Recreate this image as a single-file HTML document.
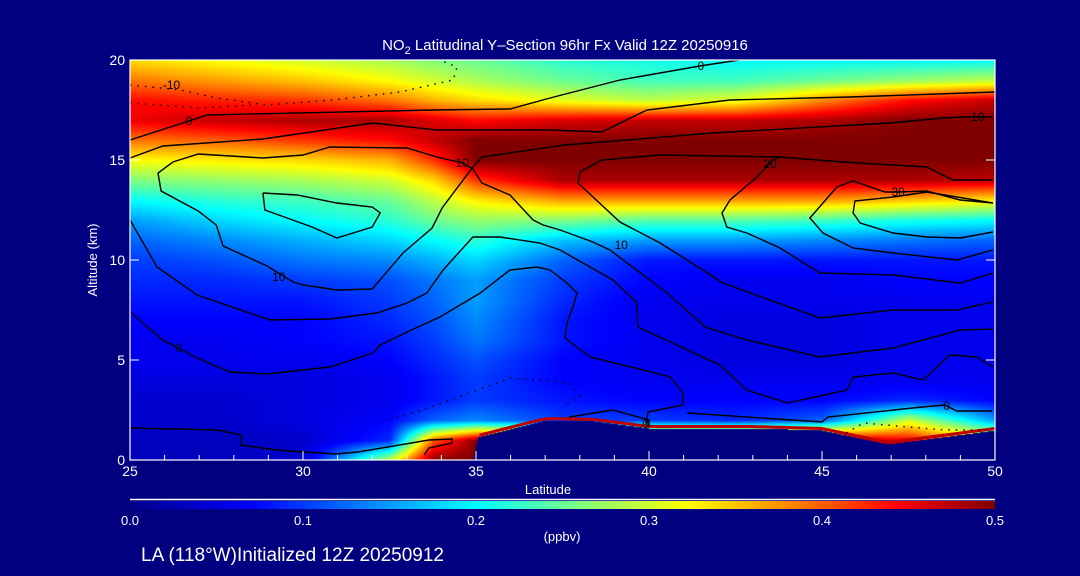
<!DOCTYPE html>
<html><head><meta charset="utf-8"><style>
html,body{margin:0;padding:0;background:#000080;}
#wrap{position:relative;width:1080px;height:576px;overflow:hidden;background:#000080;font-family:"Liberation Sans",sans-serif;color:#fff;}
canvas{position:absolute;}
svg{position:absolute;left:0;top:0;}
</style></head><body>
<div id="wrap">
<canvas id="field" width="865" height="400" style="left:130px;top:60px"></canvas>
<canvas id="cbar" width="865" height="8" style="left:130px;top:501px"></canvas>
<svg id="ov" width="1080" height="576"></svg>
</div>
<script>
const lats=[25,27.5,30,32.5,33.75,35,37.5,40,42.5,45,47.5,50];
const alts=[0,1,2,3,4,5,6,7,8,9,10,11,12,13,14,15,16,17,18,19,20];
const no2=[
[0.03,0.03,0.04,0.30,0.50,0.50,0.50,0.50,0.50,0.50,0.50,0.50],
[0.03,0.03,0.04,0.09,0.40,0.50,0.50,0.50,0.50,0.50,0.45,0.35],
[0.04,0.04,0.05,0.07,0.12,0.14,0.10,0.10,0.09,0.12,0.30,0.15],
[0.04,0.04,0.05,0.06,0.08,0.10,0.08,0.07,0.07,0.07,0.09,0.07],
[0.05,0.05,0.05,0.06,0.08,0.10,0.07,0.06,0.06,0.06,0.06,0.06],
[0.06,0.06,0.06,0.07,0.09,0.11,0.07,0.06,0.05,0.05,0.06,0.06],
[0.06,0.06,0.07,0.08,0.10,0.13,0.08,0.06,0.05,0.05,0.06,0.06],
[0.07,0.07,0.07,0.09,0.11,0.14,0.08,0.06,0.05,0.05,0.06,0.06],
[0.08,0.08,0.08,0.10,0.12,0.15,0.09,0.06,0.06,0.06,0.06,0.06],
[0.09,0.09,0.10,0.11,0.13,0.15,0.10,0.07,0.06,0.06,0.07,0.07],
[0.10,0.11,0.13,0.14,0.16,0.18,0.12,0.08,0.08,0.08,0.08,0.08],
[0.12,0.14,0.16,0.18,0.20,0.22,0.17,0.15,0.15,0.14,0.13,0.12],
[0.15,0.18,0.20,0.22,0.25,0.27,0.26,0.24,0.24,0.23,0.21,0.20],
[0.20,0.22,0.23,0.25,0.29,0.33,0.37,0.37,0.37,0.37,0.35,0.33],
[0.26,0.27,0.28,0.30,0.34,0.42,0.48,0.48,0.48,0.48,0.48,0.47],
[0.32,0.33,0.34,0.36,0.42,0.50,0.50,0.50,0.50,0.50,0.50,0.50],
[0.39,0.40,0.42,0.44,0.47,0.50,0.50,0.50,0.50,0.50,0.50,0.50],
[0.45,0.47,0.48,0.48,0.46,0.44,0.46,0.47,0.47,0.48,0.50,0.50],
[0.44,0.43,0.42,0.39,0.36,0.34,0.31,0.29,0.31,0.38,0.44,0.47],
[0.39,0.37,0.35,0.32,0.30,0.28,0.25,0.23,0.23,0.25,0.27,0.29],
[0.34,0.32,0.30,0.28,0.26,0.25,0.22,0.21,0.20,0.20,0.20,0.20]];
const terrainLat=[25,34.9,35.05,37,38.4,40,43,45,46.9,50];
const terrainAlt=[0,0,1.15,2,1.95,1.6,1.6,1.5,0.8,1.5];
const xTicks=[25,30,35,40,45,50];
const yTicks=[0,5,10,15,20];
const cbTicks=[0.0,0.1,0.2,0.3,0.4,0.5];
const solidContours=[
[[25,16],[26.53,16.85],[27.23,17.25],[33.76,17.5],[35.98,17.55],[37.14,18.1],[39.16,19],[41.47,19.7],[42.6,20]],
[[25,15.1],[25.95,15.7],[28.84,16.05],[32.02,16.85],[33.87,16.5],[37.14,16.5],[38.64,16.4],[39.94,17.5],[42.34,18],[45.81,18.15],[50,18.4]],
[[49.94,17.15],[49.08,17.15],[48.5,17.1],[46.97,16.85],[41.85,16.35],[37.57,15.75],[35.17,15.15],[34.91,14.65],[34.02,12.6],[33.73,11.6],[32.89,10.35],[32,8.55],[30.98,8.5],[30,8.75],[29.71,8.9],[28.96,9.7],[27.69,10.7],[27.49,11.75],[26.97,12.45],[25.9,13.45],[25.81,14.35],[26.24,14.9],[26.97,15.3],[28.84,15.1],[30,15.25],[30.78,15.65],[33.01,15.6],[33.87,15.15],[34.62,14.85],[34.91,14.55],[35.17,13.85],[35.98,13.25],[36.65,12],[36.94,11.75],[37.43,11.5],[38.38,10.9],[38.87,10.5],[40.52,8.35],[41.62,6.65],[42.83,6],[44.94,5.15],[47.05,5.6],[48.99,6.5],[49.94,6.55]],
[[28.84,13.35],[28.9,12.5],[30.26,11.65],[30.98,11.1],[32,11.65],[32.23,12.35],[32,12.65],[30.98,12.85],[29.83,13.25],[28.84,13.35]],
[[25,12],[25.78,9.65],[26.94,8.25],[29.05,7],[30.78,7.05],[32.14,7.35],[33.01,7.85],[33.58,8.35],[34.05,9.5],[34.91,11.15],[35.69,11.15],[36.85,10.85],[37.43,10.5],[38.96,9],[39.65,7.85],[39.68,6.65],[42.05,4.75],[42.83,3.5],[43.99,2.85],[45.72,3.5],[45.9,4.15],[47.05,4.35],[47.92,4],[48.7,5.25],[49.48,5.15],[49.94,4.65]],
[[25,7.4],[25.95,6],[26.39,5.6],[26.94,5.1],[27.89,4.4],[28.96,4.3],[30.78,4.65],[32.02,5.35],[32.23,5.75],[33.01,6.4],[33.96,7.15],[35.12,8.35],[35.98,9.5],[36.76,9.65],[37.14,9.5],[37.63,8.85],[37.92,8.35],[37.8,7.65],[37.63,6.85],[37.57,6.1],[38.29,5.15],[39.83,4.5],[40.61,4.15],[40.98,3.35],[40.98,2.75],[39.97,2.4],[39.91,1.75]],
[[43.79,15.15],[40.32,15.25],[38.64,15],[38.01,14.4],[37.95,13.85],[39.16,11.9],[40.32,10.85],[41.1,10],[42.14,8.85],[44.94,7.1],[47.05,7.5],[48.9,7.5],[49.94,7.9]],
[[49.94,14],[48.79,14],[48.03,14.65],[45.61,14.9],[43.79,15.15],[43.58,15],[43.12,14.15],[42.34,13],[42.11,12.35],[42.25,11.65],[42.83,11.35],[43.79,10.6],[44.94,9.35],[47.05,9.25],[48.99,8.85],[49.94,9.35]],
[[49.94,12.85],[48.99,13],[48.03,13.45],[47.25,13.4],[46.82,13.4],[45.9,13.95],[45.43,13.65],[44.65,12.1],[45.03,11.35],[45.9,10.6],[47.05,10.35],[48.9,10],[49.94,10.5]],
[[49.94,12.85],[48.03,13.4],[47.05,13.15],[45.95,12.95],[45.9,12.35],[46.1,11.85],[47.05,11.35],[48.03,11.15],[48.99,11.1],[49.94,11.4]],
[[25,1.6],[27.51,1.5],[28.21,1.25],[28.21,0.75],[29.22,0.5],[30.92,0.3],[31.59,0.4],[33.64,1],[34.31,1.05],[34.31,0.85],[33.64,0.6],[33.5,0.25]],
[[37.69,2.15],[38.96,2.5],[40,2],[40,1.65]],
[[41.1,2.35],[45,1.9],[45.17,2.15],[47.89,2.65],[48.55,2.75],[48.9,2.45],[49.91,2.45]]];
const dottedContours=[
[[25,18.75],[26.45,18.5],[27.51,18.1],[28.96,17.75],[30.87,18],[32.8,18.4],[34.34,19],[34.45,19.65],[33.96,20]],
[[25,17.85],[27,17.6],[28.5,17.75]],
[[32.5,2],[33.7,2.65],[36,4.1],[37.7,3.85],[38,3.2],[37.5,2.6]],
[[45.7,1.35],[46.2,1.85],[47.5,1.65],[48.55,1.5],[49.9,1.5]]];
const contourLabels=[["-10",26.2,18.75],["0",26.7,16.95],["10",34.6,14.85],["10",29.3,9.15],["0",26.4,5.6],["0",41.5,19.7],["10",49.5,17.15],["10",39.2,10.75],["20",43.5,14.8],["30",47.2,13.4],["0",48.6,2.7],["0",39.9,1.8]];

const X0=130,X1=995,Y0=60,Y1=460;
const xs=l=>X0+(l-25)/25*(X1-X0);
const ys=a=>Y1-a/20*(Y1-Y0);
const cmapS=[0,0.07,0.135,0.2,0.26,0.322,0.385,0.444,0.5];
const cmapC=[[0,0,140],[0,0,255],[0,128,255],[0,255,255],[128,255,128],[255,255,0],[255,128,0],[255,0,0],[128,0,0]];
function cmap(v){v=Math.max(0,Math.min(0.5,v));for(let i=1;i<cmapS.length;i++){if(v<=cmapS[i]){const t=(v-cmapS[i-1])/(cmapS[i]-cmapS[i-1]);const a=cmapC[i-1],b=cmapC[i];return [a[0]+(b[0]-a[0])*t,a[1]+(b[1]-a[1])*t,a[2]+(b[2]-a[2])*t];}}return cmapC[cmapC.length-1];}
function interp1(xa,ya,x){if(x<=xa[0])return ya[0];for(let i=1;i<xa.length;i++)if(x<=xa[i]){const t=(x-xa[i-1])/(xa[i]-xa[i-1]);return ya[i-1]+(ya[i]-ya[i-1])*t;}return ya[ya.length-1];}
function idx(arr,x){let i=0;while(i<arr.length-2&&x>arr[i+1])i++;const u=Math.max(0,Math.min(1,(x-arr[i])/(arr[i+1]-arr[i])));return [i,u];}
function field(lat,alt){const [i,u]=idx(lats,lat);const [j,v]=idx(alts,alt);
 return no2[j][i]*(1-u)*(1-v)+no2[j][i+1]*u*(1-v)+no2[j+1][i]*(1-u)*v+no2[j+1][i+1]*u*v;}
(function(){const c=document.getElementById('field').getContext('2d');const W=865,H=400;const img=c.createImageData(W,H);
for(let py=0;py<H;py++){const alt=(H-py)/H*20;for(let px=0;px<W;px++){const lat=25+px/W*25;let col;
 if(alt<interp1(terrainLat,terrainAlt,lat))col=[0,0,128];else col=cmap(field(lat,alt));
 const k=(py*W+px)*4;img.data[k]=col[0];img.data[k+1]=col[1];img.data[k+2]=col[2];img.data[k+3]=255;}}
c.putImageData(img,0,0);})();
(function(){const c=document.getElementById('cbar').getContext('2d');for(let px=0;px<865;px++){const col=cmap(px/865*0.5);c.fillStyle=`rgb(${col[0]|0},${col[1]|0},${col[2]|0})`;c.fillRect(px,0,1,8);}})();
const NS='http://www.w3.org/2000/svg';const svg=document.getElementById('ov');
function mk(tag,attrs,parent){const e=document.createElementNS(NS,tag);for(const k in attrs)e.setAttribute(k,attrs[k]);(parent||svg).appendChild(e);return e;}
const tg=mk('g',{});


let tp='';for(let k=0;k<60;k++){const l=35.1+k/59*14.9;tp+=(k?'L':'M')+xs(l).toFixed(1)+','+(ys(interp1(terrainLat,terrainAlt,l))-1.5).toFixed(1);}
mk('path',{d:tp,fill:'none',stroke:'#c00000','stroke-width':3},tg);
const cg=mk('g',{});


solidContours.forEach(pts=>{const p=mk('polyline',{points:pts.map(q=>xs(q[0]).toFixed(1)+','+ys(q[1]).toFixed(1)).join(' '),fill:'none',stroke:'#000','stroke-width':1.4},cg);

});
dottedContours.forEach(pts=>{const p=mk('polyline',{points:pts.map(q=>xs(q[0]).toFixed(1)+','+ys(q[1]).toFixed(1)).join(' '),fill:'none',stroke:'#000','stroke-width':1.4,'stroke-dasharray':'1.5 6'},cg);

});
contourLabels.forEach(l=>{const t=mk('text',{x:xs(l[1]),y:ys(l[2])+4,'font-size':12,fill:'#000','text-anchor':'middle','font-family':'Liberation Sans, sans-serif'},cg);t.textContent=l[0];

});
const fr=mk('rect',{x:X0,y:Y0,width:X1-X0,height:Y1-Y0,fill:'none',stroke:'#fff','stroke-width':1.2});


for(let l=25;l<=50;l++){const maj=(l%5===0);const tk=mk('line',{x1:xs(l),x2:xs(l),y1:Y1,y2:Y1-(maj?9:5),stroke:'#fff','stroke-width':1});

}
for(let a=0;a<=20;a+=5){const tk=mk('line',{x1:X0,x2:X0+9,y1:ys(a),y2:ys(a),stroke:'#fff','stroke-width':1});


const tr=mk('line',{x1:X1,x2:X1-9,y1:ys(a),y2:ys(a),stroke:'#fff','stroke-width':1});

}
xTicks.forEach(v=>{const t=mk('text',{x:xs(v),y:476,'font-size':14,fill:'#fff','text-anchor':'middle'});t.textContent=v;

});
yTicks.forEach(v=>{const t=mk('text',{x:125,y:ys(v)+5,'font-size':14,fill:'#fff','text-anchor':'end'});t.textContent=v;

});
cbTicks.forEach(v=>{const t=mk('text',{x:X0+v/0.5*(X1-X0),y:525,'font-size':13,fill:'#fff','text-anchor':'middle'});t.textContent=v.toFixed(1);

});
const cl=mk('line',{x1:X0,x2:X1,y1:499.5,y2:499.5,stroke:'#fff','stroke-width':1.5});


function txt(s,attrs,name){const t=mk('text',Object.assign({fill:'#fff'},attrs));t.textContent=s;

return t;}
const tt=txt('',{x:565,y:50,'font-size':15,'text-anchor':'middle'},'chart-title');
tt.innerHTML='NO<tspan font-size="11" dy="4">2</tspan><tspan dy="-4"> Latitudinal Y–Section 96hr  Fx Valid 12Z 20250916</tspan>';
txt('Latitude',{x:548,y:494,'font-size':13,'text-anchor':'middle'},'x-axis-title');
txt('Altitude (km)',{x:0,y:0,'font-size':13,'text-anchor':'middle',transform:'translate(97,260) rotate(-90)'},'y-axis-title');
txt('(ppbv)',{x:562,y:541,'font-size':13,'text-anchor':'middle'},'colorbar-units');
txt('LA (118°W)Initialized 12Z 20250912',{x:141,y:561,'font-size':19},'init-caption');
</script>
</body></html>
